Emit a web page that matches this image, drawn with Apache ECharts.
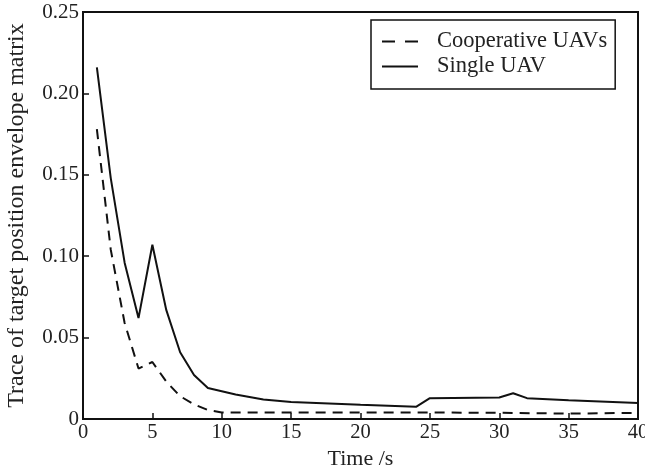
<!DOCTYPE html>
<html>
<head>
<meta charset="utf-8">
<script src="https://cdn.jsdelivr.net/npm/echarts@6/dist/echarts.min.js"></script>
<style>
html,body{margin:0;padding:0;background:#fff;}
#chart{width:645px;height:473px;}
</style>
</head>
<body>
<div id="chart"></div>
<script>
// 数据
var seriesNames = ['Cooperative UAVs', 'Single UAV'];
var coopTime = [1, 2, 3, 4, 5, 6, 7, 8, 9, 10, 15, 20, 25, 30, 35, 40];
var coopValue = [0.178, 0.104, 0.059, 0.031, 0.035, 0.023, 0.014, 0.009, 0.0055, 0.004, 0.004, 0.004, 0.004, 0.0038, 0.0033, 0.0038];
var singleTime = [1, 2, 3, 4, 5, 6, 7, 8, 9, 10, 11, 13, 15, 20, 24, 25, 30, 31, 32, 35, 40];
var singleValue = [0.216, 0.148, 0.096, 0.062, 0.107, 0.067, 0.041, 0.027, 0.019, 0.017, 0.015, 0.012, 0.0105, 0.0088, 0.0075, 0.0128, 0.0132, 0.0158, 0.0128, 0.0115, 0.0098];
var yTickLabels = ['0', '0.05', '0.10', '0.15', '0.20', '0.25'];

function pairs(xs, ys) {
	var out = [];
	for (var i = 0; i < xs.length; i++) {
		out.push([xs[i], ys[i]]);
	}
	return out;
}

var fontFam = '"Liberation Serif", "DejaVu Serif", serif';
var txt = '#222';
var ink = '#111';

var myChart = echarts.init(document.getElementById('chart'));
var option = {
	animation: false,
	backgroundColor: '#fff',
	grid: {
		left: 83,
		right: 7,
		top: 12,
		bottom: 54,
		containLabel: false,
		outerBoundsMode: 'none',
		show: true,
		borderColor: ink,
		borderWidth: 2
	},
	legend: {
		orient: 'vertical',
		left: 371,
		top: 20,
		padding: [10, 8, 11, 11],
		itemGap: 2,
		itemWidth: 36,
		itemHeight: 14,
		borderColor: ink,
		borderWidth: 1.5,
		backgroundColor: '#fff',
		itemStyle: { borderWidth: 0 },
		textStyle: { fontFamily: fontFam, fontSize: 22.5, color: txt, padding: [0, 0, 0, 14] },
		data: [{
			name: seriesNames[0],
			icon: 'path://M0,0h13v2h-13z M23,0h13v2h-13z'
		}, {
			name: seriesNames[1],
			icon: 'path://M0,0h36v2h-36z'
		}]
	},
	xAxis: {
		type: 'value',
		min: 0,
		max: 40,
		interval: 5,
		name: 'Time /s',
		nameLocation: 'middle',
		nameGap: 27,
		nameTextStyle: { fontFamily: fontFam, fontSize: 22, color: txt },
		axisLine: { lineStyle: { color: ink, width: 2 } },
		axisTick: { inside: true, length: 6, lineStyle: { color: ink, width: 1.5 } },
		axisLabel: { fontFamily: fontFam, fontSize: 20.5, color: txt, margin: 3 },
		splitLine: { show: false }
	},
	yAxis: {
		type: 'value',
		min: 0,
		max: 0.25,
		interval: 0.05,
		name: 'Trace of target position envelope matrix',
		nameLocation: 'middle',
		nameGap: 54,
		nameTextStyle: { fontFamily: fontFam, fontSize: 24, color: txt },
		axisLine: { lineStyle: { color: ink, width: 2 } },
		axisTick: { inside: true, length: 6, lineStyle: { color: ink, width: 1.5 } },
		axisLabel: {
			fontFamily: fontFam, fontSize: 21, color: txt, margin: 4,
			formatter: function(v) {
				return yTickLabels[Math.round(v / 0.05)];
			}
		},
		splitLine: { show: false }
	},
	series: [{
		name: seriesNames[0],
		type: 'line',
		symbol: 'none',
		data: pairs(coopTime, coopValue),
		lineStyle: { color: ink, width: 2, type: [10, 7] },
		itemStyle: { color: ink }
	}, {
		name: seriesNames[1],
		type: 'line',
		symbol: 'none',
		data: pairs(singleTime, singleValue),
		lineStyle: { color: ink, width: 2 },
		itemStyle: { color: ink }
	}]
};
myChart.setOption(option);
</script>
</body>
</html>
